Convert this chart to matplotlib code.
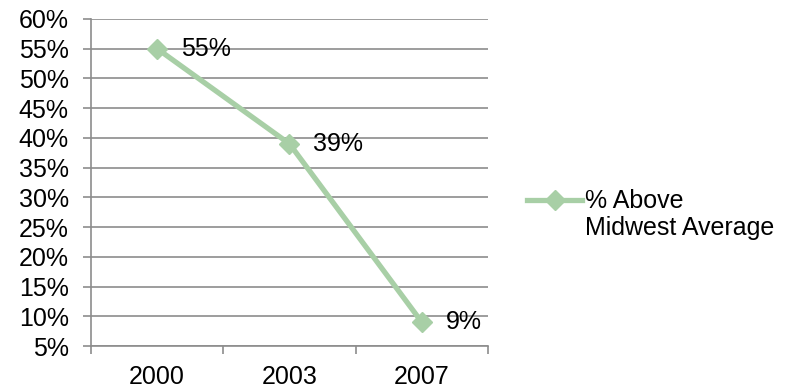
import matplotlib.pyplot as plt
from matplotlib.legend_handler import HandlerLine2D
import numpy as np

years = ['2000', '2003', '2007']
pct_above = [55, 39, 9]
series_label = '% Above\nMidwest Average'
y_ticks = list(range(5, 61, 5))

green = '#a8cfa6'
grid_gray = '#8c8c8c'
fs = 18

plt.rcParams['font.family'] = ['Liberation Sans', 'DejaVu Sans']


class TopLineHandler(HandlerLine2D):
    # put the legend handle next to the first text line, like Excel does
    def create_artists(self, legend, orig_handle, xdescent, ydescent,
                       width, height, fontsize, trans):
        arts = super().create_artists(legend, orig_handle, xdescent, ydescent,
                                      width, height, fontsize, trans)
        for a in arts:
            a.set_ydata(np.asarray(a.get_ydata()) + 0.6 * fontsize)
        return arts


fig = plt.figure(figsize=(7.9, 3.9), dpi=100)
ax = fig.add_axes([0.1152, 0.1128, 0.5025, 0.8385])

x = np.arange(len(years))
line, = ax.plot(x, pct_above, color=green, lw=3.8, marker='D', ms=10,
                markerfacecolor=green, markeredgecolor=green, label=series_label,
                solid_joinstyle='round', zorder=3)

for xi, v in zip(x, pct_above):
    ax.annotate(f'{v}%', (xi, v), xytext=(17, 0), textcoords='offset points',
                ha='left', va='center', fontsize=fs)

ax.set_xlim(-0.5, len(years) - 0.5)
ax.set_ylim(5, 60)
ax.set_yticks(y_ticks)
ax.set_yticklabels([f'{t}%' for t in y_ticks], fontsize=fs)
ax.yaxis.grid(True, color=grid_gray, lw=1.2)
ax.set_axisbelow(True)

ax.set_xticks(x)
ax.set_xticklabels(years, fontsize=fs)
ax.set_xticks(np.arange(-0.5, len(years)), minor=True)
ax.tick_params(axis='x', which='major', length=0, pad=14)
ax.tick_params(axis='x', which='minor', length=6, color=grid_gray, width=1.2)
ax.tick_params(axis='y', length=6, color=grid_gray, width=1.2, pad=10)

for s in ['top', 'right']:
    ax.spines[s].set_visible(False)
for s in ['left', 'bottom']:
    ax.spines[s].set_color(grid_gray)
    ax.spines[s].set_linewidth(1.2)

fig.legend(handles=[line], loc='center left', bbox_to_anchor=(0.639, 0.45),
           frameon=False, fontsize=fs, handlelength=2.2, handletextpad=0.12,
           handler_map={line: TopLineHandler()})

fig.savefig('out.png', dpi=100)
